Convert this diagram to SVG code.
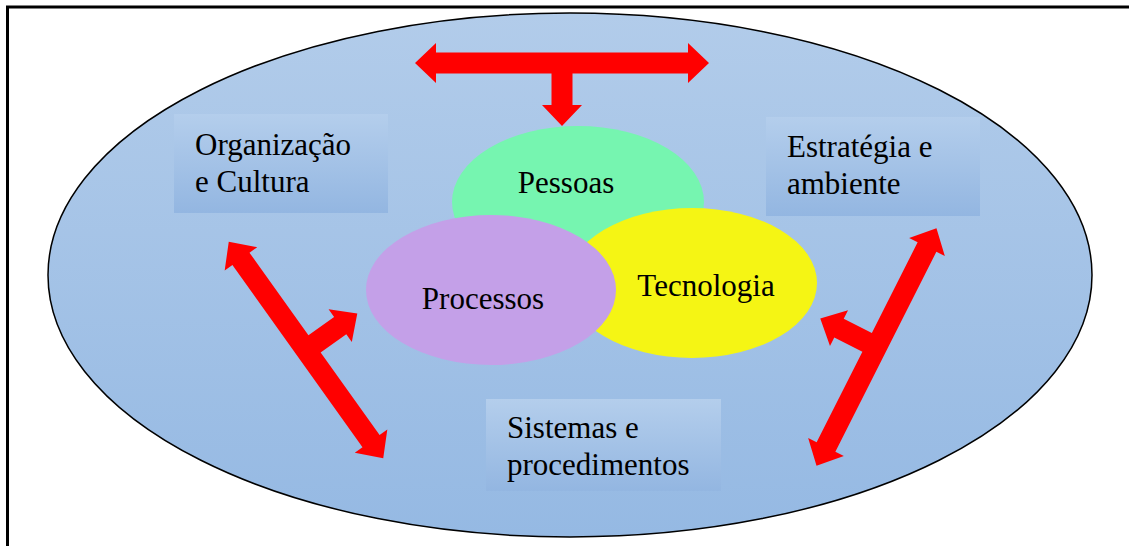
<svg xmlns="http://www.w3.org/2000/svg" width="1129" height="546" viewBox="0 0 1129 546">
<defs>
<linearGradient id="gOuter" x1="0" y1="0" x2="0" y2="1">
<stop offset="0" stop-color="#b2ccea"/>
<stop offset="1" stop-color="#95b9e3"/>
</linearGradient>
<linearGradient id="gBox" x1="0" y1="0" x2="0" y2="1">
<stop offset="0" stop-color="#b4ceec"/>
<stop offset="1" stop-color="#93b6e1"/>
</linearGradient>
<style>
.t{font-family:"Liberation Serif","Times New Roman",serif;font-size:31px;fill:#000}
.box{fill:url(#gBox)}
.arr{fill:#ff0000}
</style>
</defs>
<rect width="1129" height="546" fill="#ffffff"/>
<path d="M7.5,546 V7 H1129" fill="none" stroke="#000" stroke-width="3"/>
<g id="outer">
<ellipse cx="570" cy="275" rx="522" ry="262" fill="url(#gOuter)" stroke="#000" stroke-width="1.5"/>
</g>
<g id="org">
<rect class="box" x="174" y="114" width="214" height="99"/>
<text class="t" x="195" y="155">Organização</text>
<text class="t" x="195" y="192">e Cultura</text>
</g>
<g id="estrategia">
<rect class="box" x="766" y="117" width="214" height="99"/>
<text class="t" x="787" y="157">Estratégia e</text>
<text class="t" x="787" y="194">ambiente</text>
</g>
<g id="sistemas">
<rect class="box" x="486" y="399" width="235" height="92"/>
<text class="t" x="507" y="438">Sistemas e</text>
<text class="t" x="507" y="475">procedimentos</text>
</g>
<g id="pessoas">
<ellipse cx="578" cy="202" rx="126" ry="76" fill="#76f5b0"/>
<text class="t" x="566" y="193" text-anchor="middle">Pessoas</text>
</g>
<g id="tecnologia">
<ellipse cx="692" cy="283" rx="125" ry="75" fill="#f5f514"/>
<text class="t" x="706" y="296" text-anchor="middle">Tecnologia</text>
</g>
<g id="processos">
<ellipse cx="491" cy="290" rx="125" ry="75" fill="#c4a0e8"/>
<text class="t" x="483" y="309" text-anchor="middle">Processos</text>
</g>
<g id="connectors">
<polygon class="arr" transform="translate(562,63)" points="-147,0 -126,-20 -126,-10.5 126,-10.5 126,-20 147,0 126,20 126,10.5 10.5,10.5 10.5,42 20,42 0,63 -20,42 -10.5,42 -10.5,10.5 -126,10.5 -126,20"/>
<polygon class="arr" transform="translate(306,350) rotate(234.5)" points="-133,0 -112,-20 -112,-10.5 112,-10.5 112,-20 133,0 112,20 112,10.5 10.5,10.5 10.5,42 20,42 0,63 -20,42 -10.5,42 -10.5,10.5 -112,10.5 -112,20"/>
<polygon class="arr" transform="translate(876.5,347) rotate(116.8)" points="-133,0 -112,-20 -112,-10.5 112,-10.5 112,-20 133,0 112,20 112,10.5 10.5,10.5 10.5,42 20,42 0,63 -20,42 -10.5,42 -10.5,10.5 -112,10.5 -112,20"/>
</g>
</svg>
